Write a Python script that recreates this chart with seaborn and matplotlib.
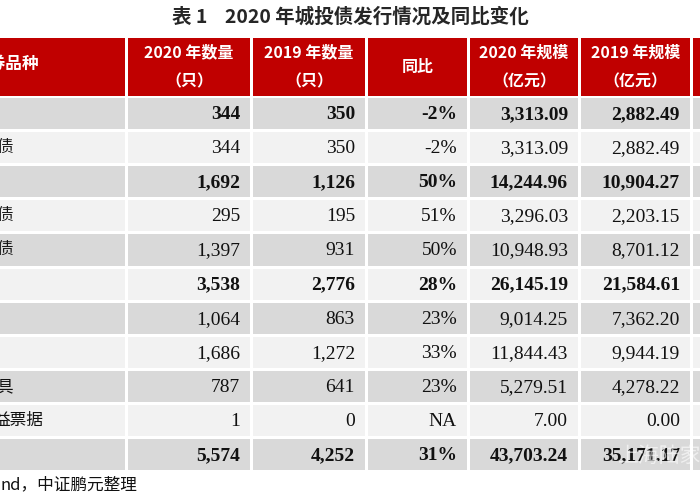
import matplotlib
matplotlib.use("Agg")
import matplotlib.pyplot as plt
from matplotlib.patches import Rectangle
import seaborn as sns

sns.set_theme(style="white")

title = "表 1    2020 年城投债发行情况及同比变化"
headers = ["债券品种", "2020 年数量\n（只）", "2019 年数量\n（只）", "同比", "2020 年规模\n（亿元）", "2019 年规模\n（亿元）", ""]
row_labels = ["", "债", "", "债", "债", "", "", "", "具", "益票据", ""]
count_2020 = ["344", "344", "1,692", "295", "1,397", "3,538", "1,064", "1,686", "787", "1", "5,574"]
count_2019 = ["350", "350", "1,126", "195", "931", "2,776", "863", "1,272", "641", "0", "4,252"]
yoy = ["-2%", "-2%", "50%", "51%", "50%", "28%", "23%", "33%", "23%", "NA", "31%"]
scale_2020 = ["3,313.09", "3,313.09", "14,244.96", "3,296.03", "10,948.93", "26,145.19", "9,014.25", "11,844.43", "5,279.51", "7.00", "43,703.24"]
scale_2019 = ["2,882.49", "2,882.49", "10,904.27", "2,203.15", "8,701.12", "21,584.61", "7,362.20", "9,944.19", "4,278.22", "0.00", "35,171.17"]
bold_rows = [0, 2, 5, 10]
source = "nd，中证鹏元整理"

CJK = "Noto Sans CJK JP"
SERIF = "Liberation Serif"

fig = plt.figure(figsize=(7, 5), dpi=100)
ax = fig.add_axes([0, 0, 1, 1])
ax.set_xlim(0, 700)
ax.set_ylim(500, 0)
ax.axis("off")

col_edges = [(-10, 125), (128, 250), (253, 365), (368, 467), (470, 578), (581, 690), (693, 720)]
header_top, header_bot = 38, 96
row_top0, row_h = 98, 34.1

ax.text(350, 17, title, ha="center", va="center", fontsize=14, fontweight="bold", family=CJK)

red = "#c00000"
for j, (x0, x1) in enumerate(col_edges):
    ax.add_patch(Rectangle((x0, header_top), x1 - x0, header_bot - header_top, color=red, lw=0))
    if j == 0:
        ax.text(-27, (header_top + header_bot) / 2 - 3, headers[0], ha="left", va="center",
                color="white", fontsize=12, fontweight="bold", family=CJK, clip_on=True)
    elif headers[j]:
        ax.text((x0 + x1) / 2, (header_top + header_bot) / 2, headers[j], ha="center", va="center",
                color="white", fontsize=11.5, fontweight="bold", family=CJK, linespacing=2.0)

cols = [count_2020, count_2019, yoy, scale_2020, scale_2019]
for i in range(len(count_2020)):
    y0 = row_top0 + i * row_h
    y1 = y0 + row_h - 3
    bg = "#d9d9d9" if i % 2 == 0 else "#f2f2f2"
    bold = "bold" if i in bold_rows else "normal"
    yc = (y0 + y1) / 2
    for j, (x0, x1) in enumerate(col_edges):
        ax.add_patch(Rectangle((x0, y0), x1 - x0, y1 - y0, color=bg, lw=0))
    if row_labels[i]:
        ax.text(-4 if len(row_labels[i]) == 1 else -6, yc, row_labels[i], ha="left", va="center",
                fontsize=12, family=CJK, color="#111111", clip_on=True)
    for j, vals in enumerate(cols):
        x1 = col_edges[j + 1][1]
        ax.text(x1 - 10, yc + 1, vals[i], ha="right", va="center", fontsize=14,
                family=SERIF, fontweight=bold, color="#111111")

ax.text(0, 485, source, ha="left", va="center", fontsize=12, family=CJK, color="#111111")
ax.text(618, 456, "上海陆家", ha="left", va="center", fontsize=15, family=CJK,
        color="white", alpha=0.6)

fig.savefig("out.png", dpi=100)
